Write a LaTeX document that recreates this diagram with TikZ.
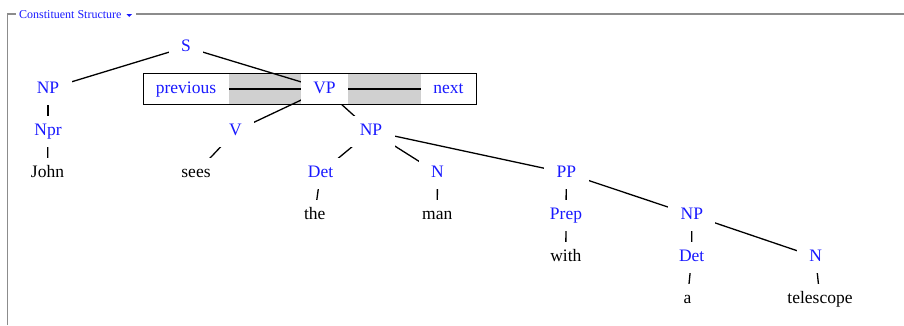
\documentclass[tikz,border=0pt]{standalone}
\usepackage{fontspec}
\setmainfont{Liberation Serif}
\pgfdeclarelayer{bg}
\pgfdeclarelayer{edges}
\pgfsetlayers{bg,edges,main}
\definecolor{lblue}{RGB}{25,25,255}
\definecolor{navgray}{RGB}{208,208,208}
\definecolor{framegray}{RGB}{140,140,140}
\begin{document}
\begin{tikzpicture}[x=1pt,y=-1pt,
  tn/.style={fill=white, inner xsep=12.5pt, inner ysep=0pt, text height=19.5pt, text depth=11.5pt,
    font=\fontsize{17.5}{20}\selectfont, anchor=base},
  cat/.style={tn, text=lblue},
  word/.style={tn, text=black},
  edge/.style={line width=1.3pt, black}]
\useasboundingbox (0,0) rectangle (904,325);
% frame
\node[anchor=base west, inner sep=0pt, text=lblue, font=\fontsize{12}{14}\selectfont] (title) at (19,18.5) {Constituent Structure};
\fill[lblue] (126.5,14) -- (132,14) -- (129.25,16.8) -- cycle;
\draw[framegray, line width=1.5pt] (7.3,325) -- (7.3,14) -- (16,14);
\draw[framegray, line width=1.5pt] (136,14) -- (904,14);
% nodes
\node[cat] (S) at (186,51) {S};
\node[cat] (NP) at (48,93) {NP};
\node[cat] (prev) at (186,93) {previous};
\node[cat] (VP) at (324.5,93) {VP};
\node[cat] (next) at (448.5,93) {next};
\node[cat] (Npr) at (48,135) {Npr};
\node[cat] (V) at (235.5,135) {V};
\node[cat] (NPb) at (371,135) {NP};
\node[word] (John) at (47.5,177) {John};
\node[word] (sees) at (196,177) {sees};
\node[cat] (Det) at (320.5,177) {Det};
\node[cat] (N) at (437.5,177) {N};
\node[cat] (PP) at (566.3,177) {PP};
\node[word] (the) at (314.7,219) {the};
\node[word] (man) at (437.2,219) {man};
\node[cat] (Prep) at (566,219) {Prep};
\node[cat] (NPc) at (691.8,219) {NP};
\node[word] (with) at (565.8,261) {with};
\node[cat] (Detb) at (691.7,261) {Det};
\node[cat] (Nb) at (815.6,261) {N};
\node[word] (a) at (687.5,303) {a};
\node[word] (telescope) at (820,303) {telescope};
% navigation box
\begin{pgfonlayer}{bg}
\fill[navgray] (prev.north east) rectangle (next.south west);
\end{pgfonlayer}
\draw[line width=1.3pt] (prev.north west) rectangle (next.south east);
% edges
\begin{pgfonlayer}{edges}
\draw[edge] (S.center) -- (NP.center);
\draw[edge] (S.center) -- (VP.center);
\draw[edge] (NP.center) -- (Npr.center);
\draw[edge] (Npr.center) -- (John.center);
\draw[edge] (prev.center) -- (VP.center);
\draw[edge] (VP.center) -- (next.center);
\draw[edge] (VP.center) -- (V.center);
\draw[edge] (VP.center) -- (NPb.center);
\draw[edge] (V.center) -- (sees.center);
\draw[edge] (NPb.center) -- (Det.center);
\draw[edge] (NPb.center) -- (N.center);
\draw[edge] (NPb.center) -- (PP.center);
\draw[edge] (Det.center) -- (the.center);
\draw[edge] (N.center) -- (man.center);
\draw[edge] (PP.center) -- (Prep.center);
\draw[edge] (PP.center) -- (NPc.center);
\draw[edge] (Prep.center) -- (with.center);
\draw[edge] (NPc.center) -- (Detb.center);
\draw[edge] (NPc.center) -- (Nb.center);
\draw[edge] (Detb.center) -- (a.center);
\draw[edge] (Nb.center) -- (telescope.center);
\end{pgfonlayer}
\end{tikzpicture}
\end{document}
